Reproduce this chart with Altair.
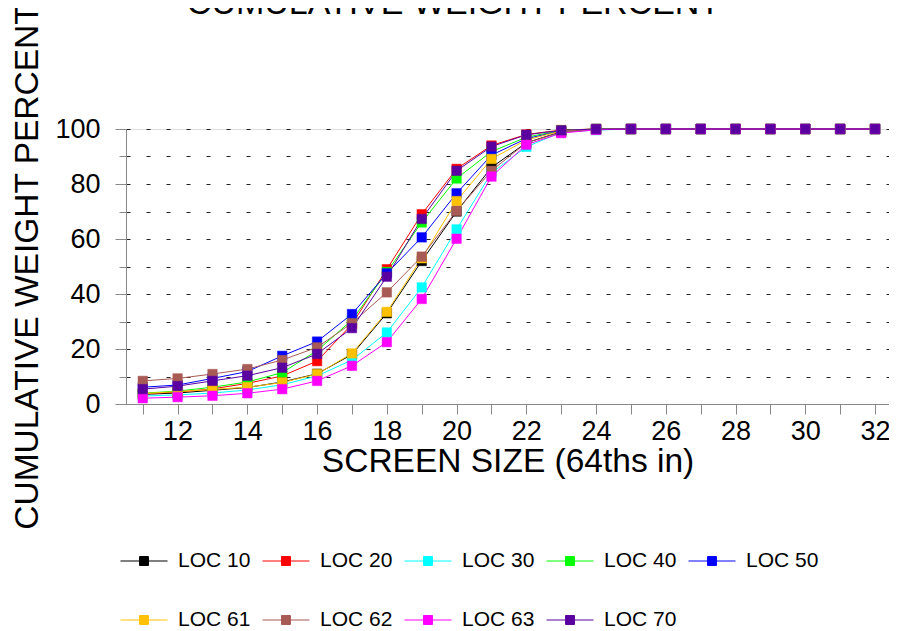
import altair as alt
import pandas as pd

sizes = list(range(11, 33))
series_names = ["LOC 10", "LOC 20", "LOC 30", "LOC 40", "LOC 50", "LOC 61", "LOC 62", "LOC 63", "LOC 70"]
series_colors = ["#000000", "#ff0000", "#00ffff", "#00ff00", "#0000ff", "#ffc000", "#a85a55", "#ff00ff", "#5a00a0"]

loc10 = [3.5, 4.0, 5.0, 6.0, 8.0, 11.0, 18.0, 33.0, 52.0, 70.0, 86.0, 95.0, 99.0, 99.8, 100, 100, 100, 100, 100, 100, 100, 100]
loc20 = [3.8, 4.3, 5.5, 7.5, 10.2, 15.6, 29.0, 49.0, 69.0, 85.5, 94.0, 98.0, 99.6, 100, 100, 100, 100, 100, 100, 100, 100, 100]
loc30 = [2.9, 3.3, 4.0, 5.1, 7.0, 10.2, 16.0, 26.0, 42.4, 63.5, 84.0, 93.5, 98.8, 99.6, 100, 100, 100, 100, 100, 100, 100, 100]
loc40 = [3.9, 4.7, 6.1, 8.0, 11.4, 19.4, 30.5, 48.0, 66.0, 82.0, 91.8, 97.0, 99.5, 100, 100, 100, 100, 100, 100, 100, 100, 100]
loc50 = [6.1, 6.9, 9.3, 11.8, 17.5, 22.7, 32.7, 47.5, 60.6, 76.6, 90.5, 96.5, 99.3, 100, 100, 100, 100, 100, 100, 100, 100, 100]
loc61 = [3.8, 4.5, 5.3, 6.1, 7.8, 10.9, 18.4, 33.5, 53.0, 73.8, 89.1, 96.0, 99.3, 100, 100, 100, 100, 100, 100, 100, 100, 100]
loc62 = [8.4, 9.3, 10.9, 12.7, 16.0, 20.6, 29.4, 40.6, 53.6, 70.2, 84.8, 95.0, 98.8, 99.8, 100, 100, 100, 100, 100, 100, 100, 100]
loc63 = [2.1, 2.5, 3.0, 3.9, 5.4, 8.4, 13.9, 22.5, 38.2, 60.1, 82.7, 94.3, 98.5, 99.7, 100, 100, 100, 100, 100, 100, 100, 100]
loc70 = [5.4, 6.5, 8.4, 10.3, 13.2, 18.2, 27.6, 46.3, 67.3, 84.8, 93.6, 97.9, 99.5, 100, 100, 100, 100, 100, 100, 100, 100, 100]

all_series = [loc10, loc20, loc30, loc40, loc50, loc61, loc62, loc63, loc70]

rows = []
for i, (name, vals) in enumerate(zip(series_names, all_series)):
    for s, v in zip(sizes, vals):
        rows.append({"loc": name, "order": i, "size": s, "pct": v})
df = pd.DataFrame(rows)

FONT = "Liberation Sans"

color_scale = alt.Scale(domain=series_names, range=series_colors)

legend = alt.Legend(
    title=None,
    orient="none",
    legendX=-6,
    legendY=408,
    direction="horizontal",
    columns=5,
    symbolType="M-1,0H1M-0.19,-0.19H0.19V0.19H-0.19Z",
    symbolSize=2209,
    symbolStrokeWidth=1,
    symbolOpacity=1,
    labelFont=FONT,
    labelFontSize=21,
    labelColor="#000000",
    labelOffset=10,
    columnPadding=9,
    rowPadding=25,
    padding=0,
)

x_enc = alt.X(
    "size:Q",
    scale=alt.Scale(domain=[10.52, 32.4], nice=False, zero=False),
    axis=alt.Axis(
        title="SCREEN SIZE (64ths in)",
        values=sizes,
        labelExpr="datum.value % 2 == 0 ? datum.label : ''",
        grid=False,
        tickSize=10,
        labelPadding=4,
        labelFontSize=27,
        titleFontSize=33.5,
        titleFontWeight="normal",
        titlePadding=1,
        labelFlush=False,
        labelOverlap=False,
    ),
)
y_enc = alt.Y(
    "pct:Q",
    scale=alt.Scale(domain=[0, 100], nice=False),
    axis=alt.Axis(
        title="CUMULATIVE WEIGHT PERCENT",
        values=[0, 10, 20, 30, 40, 50, 60, 70, 80, 90, 100],
        labelExpr="datum.value % 20 == 0 ? datum.label : ''",
        tickSize={"condition": {"test": "datum.value % 20 == 0", "value": 11}, "value": 7},
        labelPadding=15,
        labelFontSize=27,
        titleFontSize=33.5,
        titleFontWeight="normal",
        titlePadding=10,
        grid=True,
        gridDash=[4, 16],
        gridColor="#222222",
        gridWidth=1,
        labelFlush=False,
        labelOverlap=False,
    ),
)

lines = alt.Chart(df).mark_line(strokeWidth=1).encode(
    x=x_enc,
    y=y_enc,
    stroke=alt.Stroke("loc:N", scale=color_scale, sort=series_names, legend=legend),
    detail="loc:N",
    order="size:Q",
)

points = alt.Chart(df).mark_point(shape="square", filled=True, size=90, opacity=1, strokeWidth=0.5).encode(
    x=x_enc,
    y=y_enc,
    fill=alt.Fill("loc:N", scale=color_scale, sort=series_names, legend=legend),
    stroke=alt.Stroke("loc:N", scale=color_scale, sort=series_names, legend=legend),
    order="order:Q",
)

chart = (
    alt.layer(lines, points)
    .properties(
        width=763,
        height=275,
        autosize=alt.AutoSizeParams(type="none"),
        padding={"left": 118, "top": 121, "right": 0, "bottom": 227},
        title=alt.Title(
            "CUMULATIVE WEIGHT PERCENT",
            font=FONT,
            fontSize=34,
            fontWeight="normal",
            color="#000000",
            anchor="middle",
            frame="group",
            dx=-54,
            dy=45,
            offset=0,
            baseline="alphabetic",
        ),
    )
    .configure_view(stroke="#000000", strokeWidth=1)
    .configure_axis(
        labelFont=FONT,
        titleFont=FONT,
        labelColor="#000000",
        titleColor="#000000",
        titleFontWeight="normal",
        domainColor="#000000",
        tickColor="#000000",
        domainWidth=1,
        tickWidth=1,
    )
    .configure(background="white")
)

chart.save("out.html", embed_options={"renderer": "svg", "actions": False})
